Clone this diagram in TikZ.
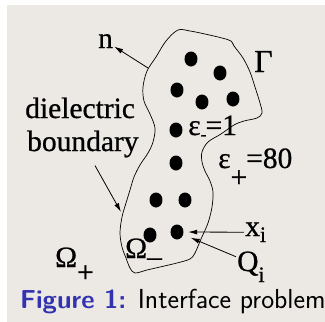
\documentclass[tikz,border=0pt]{standalone}
\usepackage{fontspec}
\setmainfont{Liberation Serif}[FakeBold=0.7]
\usepackage{tikz}
\usetikzlibrary{arrows.meta, positioning, shapes.geometric}
\definecolor{slidebg}{RGB}{236,233,228}
\definecolor{capblue}{RGB}{51,51,178}
\newcommand{\lowsub}[2]{\raisebox{-#1}{#2}}

\begin{document}
\begin{tikzpicture}[
    x=1pt, y=-1pt,
    charge/.style={ellipse, fill=black, inner sep=0pt, minimum width=13pt, minimum height=15pt},
    lbl/.style={anchor=base west, inner sep=1pt, font=\fontsize{29.5}{34}\selectfont},
    arr/.style={-{Latex[length=9pt,width=5pt]}, line width=0.8pt},
    interface/.style={line width=0.7pt}
]
    \useasboundingbox (0,0) rectangle (325,322);
    % Slide background
    \fill[slidebg] (0,0) rectangle (325,322);
    \fill[white] (0,0) rectangle (325,5);
    \fill[white] (0,0) rectangle (7,322);

    % Interface Gamma
    \draw[interface] plot[smooth cycle, tension=0.55] coordinates {
        (178,30) (190,31) (205,34) (222,38) (231,41) (234,46) (243,58) (250,72)
        (255,87) (260,103) (262,113) (257,118) (244,121) (234,125) (221,134)
        (208,142) (202,152) (202,162) (205,171) (210,181) (213,192) (212,207)
        (208,223) (201,239) (195,253) (190,259) (177,263) (160,267) (147,270)
        (135,273) (130,268) (126,258) (122,247) (120,233) (122,217) (126,203)
        (130,190) (134,177) (140,165) (148,153) (153,142) (155,128) (150,114)
        (144,101) (143,87) (147,71) (156,57) (166,41)};

    % Charges inside Omega_-
    \foreach \i/\cx/\cy in {1/191/59, 2/220/73, 3/177/90, 4/202/102, 5/233/99,
        6/176/130, 7/176/163, 8/156/200, 9/185/200, 10/150/235, 11/177/232}
        \node[charge] (q\i) at (\cx,\cy) {};

    % Labels
    \node[lbl] (n) at (97,48) {n};
    \node[lbl, font=\fontsize{32}{32}\selectfont] (gamma) at (253,72) {Γ};
    \node[lbl] (diel) at (24,118) {dielectric};
    \node[lbl] (bdry) at (26,151) {boundary};
    \node[lbl] (epsin) at (187,135) {ε\lowsub{5pt}{\fontsize{18}{18}\selectfont -}\kern-1pt=1};
    \node[lbl] (epsout) at (217,168) {ε\lowsub{19pt}{+}\kern-1pt=80};
    \node[lbl] (omout) at (54,267) {Ω\lowsub{15pt}{+}};
    \node[lbl] (omin) at (124,258) {Ω\lowsub{8pt}{–}};
    \node[lbl] (xi) at (244,236) {x\lowsub{6pt}{\fontsize{22}{22}\selectfont i}};
    \node[lbl] (Qi) at (236,271) {Q\lowsub{11pt}{\fontsize{22}{22}\selectfont i}};

    % Connectors
    \coordinate (nfoot) at (148,68);
    \coordinate (bfoot) at (121,212);
    \draw[arr] (nfoot) -- (n);
    \draw[arr, shorten <=8pt] (bdry) -- (bfoot);
    \draw[arr, shorten >=4.5pt] (xi) -- (q11);
    \draw[arr, shorten >=8pt] ([yshift=10pt]Qi.west) -- (q11);

    % Caption
    \node[anchor=base west, inner sep=0pt, font=\sffamily\fontsize{27.5}{28}\selectfont] (caption) at (20,308)
        {\textcolor{capblue}{\fontsize{26}{28}\selectfont\bfseries Figure 1:} Interface problem};
\end{tikzpicture}
\end{document}
